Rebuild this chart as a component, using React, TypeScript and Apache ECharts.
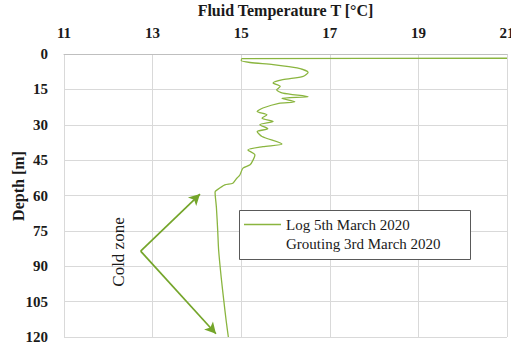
import { useEffect, useRef } from "react";
import * as echarts from "echarts";

// Axis ticks
const temperatureTicks = [11, 13, 15, 17, 19, 21];
const depthTicks = [0, 15, 30, 45, 60, 75, 90, 105, 120];

// Logged fluid temperature profile, 5th March 2020
const logTemperature = [
  21.0, 15.02, 15.0, 15.2, 15.72, 16.26, 16.51, 16.4, 15.94, 15.72, 15.88, 15.8,
  15.94, 16.51, 15.92, 16.21, 15.85, 15.49, 15.36, 15.58, 15.47, 15.72, 15.42,
  15.6, 15.36, 15.47, 15.92, 15.49, 15.15, 15.31, 15.27, 15.2, 15.04, 14.97,
  14.9, 14.81, 14.63, 14.45, 14.41, 14.44, 14.47, 14.49, 14.55, 14.61, 14.66, 14.71,
];
const logDepth = [
  1.8, 2.0, 2.8, 3.6, 4.5, 5.9, 7.8, 9.5, 10.9, 12.3, 13.8, 15.2,
  16.6, 18.1, 18.8, 20.3, 20.9, 22.9, 24.4, 25.8, 27.2, 28.6, 30.0,
  31.7, 32.9, 35.0, 38.2, 39.3, 40.7, 42.8, 44.9, 47.0, 48.4, 51.3,
  52.7, 54.8, 55.5, 57.7, 58.5, 65, 75, 83, 95, 105, 113, 120,
];

const seriesNames = ["Log 5th March 2020", "Grouting 3rd March 2020"];

// "Cold zone" annotation arrows: [temperature, depth]
const arrowOrigin = [12.73, 83.6];
const arrowTips = [
  [14.07, 59.4],
  [14.43, 118.6],
];

const LINE_GREEN = "#8ab53f";
const ARROW_GREEN = "#74a52a";
const TEXT = "#1a1a1a";
const SERIF = '"Liberation Serif", "Times New Roman", serif';

export default function App() {
  const ref = useRef<HTMLDivElement>(null);

  useEffect(() => {
    if (!ref.current) return;
    const chart = echarts.init(ref.current, null, { renderer: "svg" });

    const logData = logTemperature.map((t, i) => [t, logDepth[i]]);

    chart.setOption({
      animation: false,
      backgroundColor: "#ffffff",
      textStyle: { fontFamily: SERIF },
      grid: {
        left: 64,
        right: 4,
        top: 54,
        bottom: 10,
        containLabel: false,
        outerBoundsMode: "none",
      },
      xAxis: {
        type: "value",
        position: "top",
        min: temperatureTicks[0],
        max: temperatureTicks[temperatureTicks.length - 1],
        interval: temperatureTicks[1] - temperatureTicks[0],
        name: "Fluid Temperature T [°C]",
        nameLocation: "middle",
        nameGap: 36,
        nameTextStyle: { fontFamily: SERIF, fontWeight: "bold", fontSize: 16, color: TEXT },
        axisLine: { show: true, lineStyle: { color: "#bfbfbf", width: 1 } },
        axisTick: { show: false },
        axisLabel: { fontFamily: SERIF, fontWeight: "bold", fontSize: 15, color: TEXT, margin: 14 },
        splitLine: { show: true, lineStyle: { color: "#d9d9d9", width: 1 } },
      },
      yAxis: {
        type: "value",
        inverse: true,
        min: depthTicks[0],
        max: depthTicks[depthTicks.length - 1],
        interval: depthTicks[1] - depthTicks[0],
        name: "Depth [m]",
        nameLocation: "middle",
        nameGap: 38,
        nameMoveOverlap: false,
        nameRotate: 90,
        nameTextStyle: {
          fontFamily: SERIF,
          fontWeight: "bold",
          fontSize: 16,
          color: TEXT,
          padding: [0, 0, 0, 19],
        },
        axisLine: { show: false },
        axisTick: { show: false },
        axisLabel: { fontFamily: SERIF, fontWeight: "bold", fontSize: 15, color: TEXT, margin: 16 },
        splitLine: { show: true, lineStyle: { color: "#d9d9d9", width: 1 } },
      },
      legend: {
        orient: "vertical",
        left: 239,
        top: 211,
        itemWidth: 37,
        itemHeight: 1.6,
        itemGap: 2.3,
        z: 10,
        textStyle: { fontFamily: SERIF, fontSize: 15, color: TEXT, lineHeight: 17 },
        data: [
          { name: seriesNames[0], icon: "rect" },
          { name: seriesNames[1], icon: "rect", itemStyle: { opacity: 0 } },
        ],
      },
      graphic: [
        {
          type: "rect",
          z: 5,
          shape: { x: 239.5, y: 210.5, width: 231, height: 49 },
          style: { fill: "#ffffff", stroke: "#595959", lineWidth: 1 },
        },
        {
          type: "text",
          z: 5,
          x: 118,
          y: 252,
          rotation: Math.PI / 2,
          style: {
            text: "Cold zone",
            font: `17px ${SERIF}`,
            fill: TEXT,
            align: "center",
            verticalAlign: "middle",
          },
        },
      ],
      series: [
        {
          name: seriesNames[0],
          type: "line",
          data: logData,
          symbol: "none",
          smooth: 0.25,
          lineStyle: { color: LINE_GREEN, width: 1.3 },
          itemStyle: { color: LINE_GREEN },
          markLine: {
            silent: true,
            animation: false,
            symbol: ["none", "arrow"],
            symbolSize: [9, 11],
            label: { show: false },
            lineStyle: { color: ARROW_GREEN, width: 1.7, type: "solid" },
            itemStyle: { color: ARROW_GREEN },
            data: arrowTips.map((tip) => [{ coord: arrowOrigin }, { coord: tip }]),
          },
        },
        {
          name: seriesNames[1],
          type: "line",
          data: [],
          symbol: "none",
          lineStyle: { color: "rgba(0,0,0,0)", width: 1.3 },
          itemStyle: { color: "rgba(0,0,0,0)" },
        },
      ],
    });

    return () => chart.dispose();
  }, []);

  return <div ref={ref} style={{ width: 511, height: 347, position: "absolute", left: 0, top: 0 }} />;
}
